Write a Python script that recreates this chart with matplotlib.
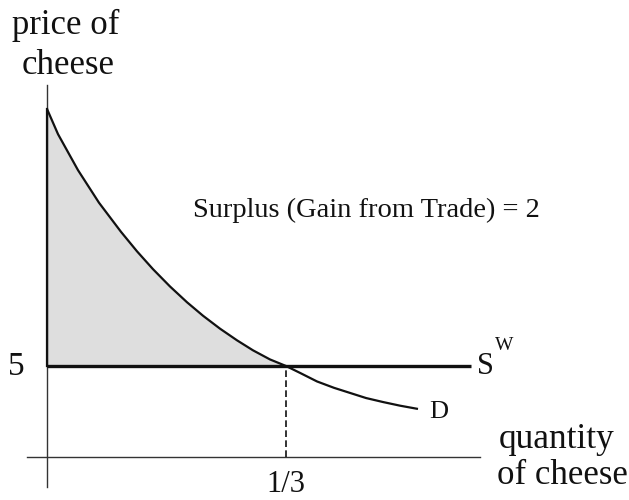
import matplotlib
matplotlib.use('Agg')
import matplotlib.pyplot as plt
import numpy as np

plt.rcParams['font.family'] = ['Liberation Serif', 'DejaVu Serif']

# demand curve (quantity, price)
q_demand = [0, 0.0153, 0.0432, 0.0725, 0.1032, 0.1255, 0.1478, 0.1715, 0.1953, 0.2176, 0.2413, 0.2650,
            0.2873, 0.3110, 0.3333, 0.3529, 0.3766, 0.4003, 0.4226, 0.4449, 0.4686, 0.4923, 0.5174]
p_demand = [19.12, 17.74, 15.76, 13.97, 12.37, 11.30, 10.32, 9.37, 8.50, 7.76, 7.05, 6.41,
            5.86, 5.36, 5.0, 4.62, 4.15, 3.80, 3.52, 3.24, 3.02, 2.82, 2.64]

world_price = 5
q_trade = 1 / 3
q_sw_end = 0.591

fig = plt.figure(figsize=(6.29, 5.0), dpi=100)
ax = fig.add_axes([0, 0, 1, 1])
ax.set_xlim(-0.0656, 0.8117)
ax.set_ylim(-2.363, 25.11)
ax.axis('off')

# axes
ax.plot([0, 0], [-1.65, 20.44], color='#333333', lw=1.0)
ax.plot([-0.028, 0.604], [0, 0], color='#333333', lw=1.0)

# shaded surplus
q = np.array(q_demand)
p = np.array(p_demand)
m = q <= q_trade + 1e-9
ax.fill_between(q[m], p[m], world_price, color='#dedede', lw=0)
ax.plot([0, 0], [world_price, p_demand[0]], color='#111111', lw=1.6)

# demand
ax.plot(q_demand, p_demand, color='#111111', lw=1.6, solid_capstyle='butt', solid_joinstyle='round')
# world supply
ax.plot([0, q_sw_end], [world_price, world_price], color='#111111', lw=2.4, solid_capstyle='butt')
# dashed drop
ax.plot([q_trade, q_trade], [0, world_price], color='#111111', lw=1.2, ls=(0, (4, 2)))

def px(x, y, s, size, **kw):
    fig.text(x / 629, 1 - y / 500, s, fontsize=size, color='#111111', va='center', **kw)

px(66, 25, 'price of', 25, ha='center')
px(68, 65, 'cheese', 25, ha='center')
px(16, 367, '5', 24, ha='center')
px(286, 485, '1/3', 22, ha='center')
px(477, 366, 'S', 22, ha='left')
px(495, 345, 'W', 14, ha='left')
px(429, 412, 'D', 19, ha='left')
px(193, 210, 'Surplus (Gain from Trade) = 2', 20.5, ha='left')
px(499, 439, 'quantity', 25.5, ha='left')
px(497, 475, 'of cheese', 25, ha='left')

fig.savefig('out.png', dpi=100)
